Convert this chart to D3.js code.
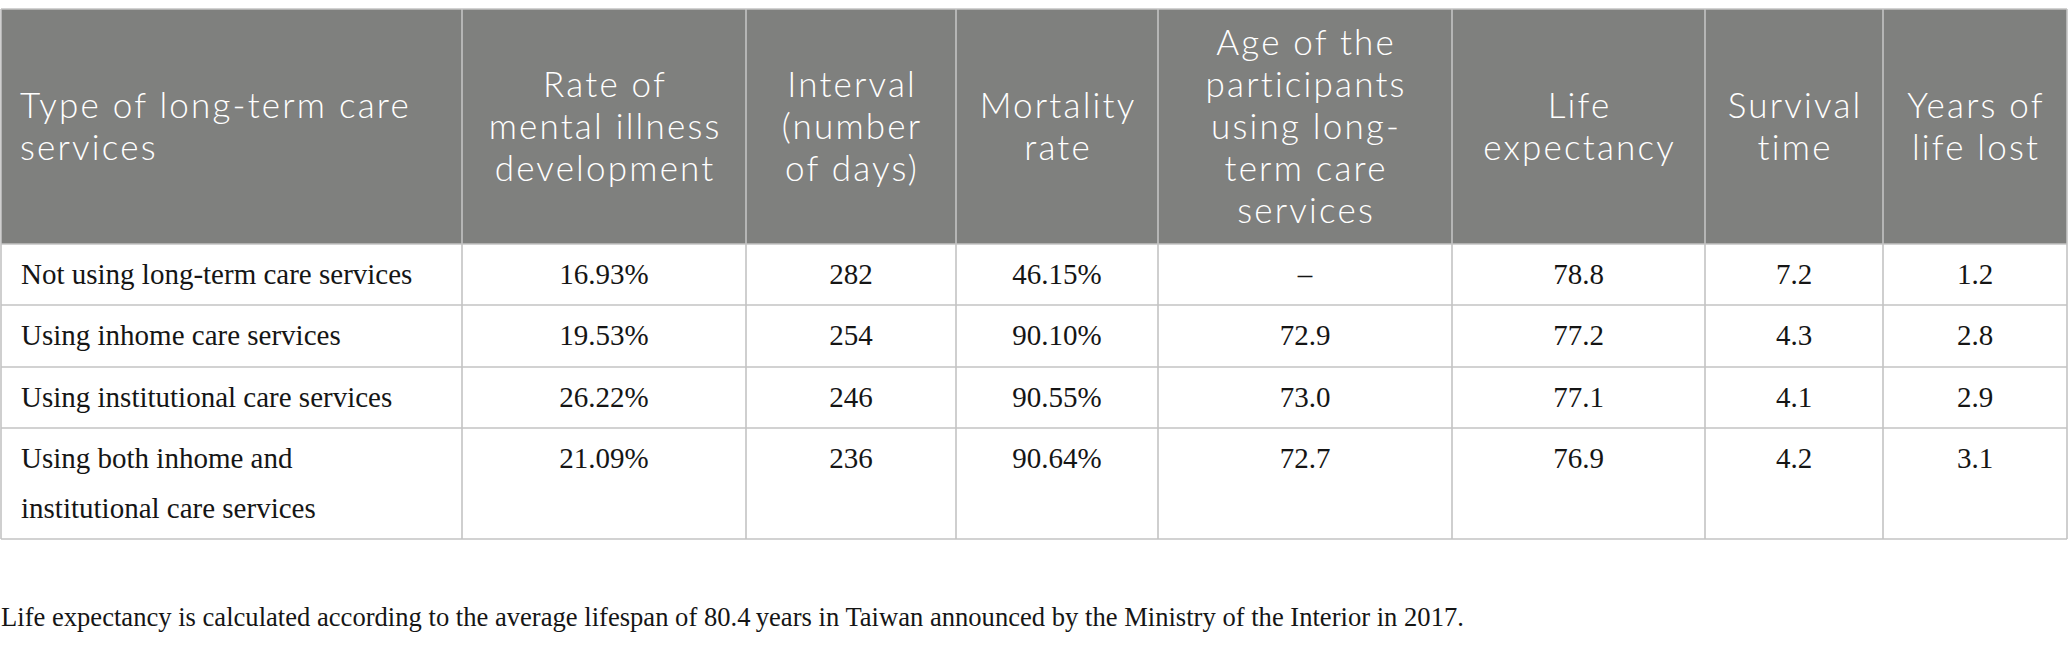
<!DOCTYPE html>
<html>
<head>
<meta charset="utf-8">
<script src="https://cdn.jsdelivr.net/npm/d3@7"></script>
<style>
  html, body { margin: 0; padding: 0; background: #ffffff; }
  svg { display: block; }
</style>
</head>
<body>
<svg id="chart" width="2068" height="646"></svg>
<script>
// ---- data ----
const headers = [
  ["Type of long-term care", "services"],
  ["Rate of", "mental illness", "development"],
  ["Interval", "(number", "of days)"],
  ["Mortality", "rate"],
  ["Age of the", "participants", "using long-", "term care", "services"],
  ["Life", "expectancy"],
  ["Survival", "time"],
  ["Years of", "life lost"]
];
const categories = [
  ["Not using long-term care services"],
  ["Using inhome care services"],
  ["Using institutional care services"],
  ["Using both inhome and", "institutional care services"]
];
const mentalIllnessRate = ["16.93%", "19.53%", "26.22%", "21.09%"];
const intervalDays = ["282", "254", "246", "236"];
const mortalityRate = ["46.15%", "90.10%", "90.55%", "90.64%"];
const ageOfParticipants = ["–", "72.9", "73.0", "72.7"];
const lifeExpectancy = ["78.8", "77.2", "77.1", "76.9"];
const survivalTime = ["7.2", "4.3", "4.1", "4.2"];
const yearsOfLifeLost = ["1.2", "2.8", "2.9", "3.1"];
const footnote = "Life expectancy is calculated according to the average lifespan of 80.4\u2009years in Taiwan announced by the Ministry of the Interior in 2017.";

// ---- layout ----
const colEdges = [1, 462, 746, 956, 1158, 1452, 1705, 1883, 2067];
const rowEdges = [9, 244, 305, 367, 428, 539];
const headerFill = "#7f807e";
const gridColor = "#c3c3c3";
const headerFont = "Lato, 'Open Sans', sans-serif";
const bodyFont = "'Liberation Serif', 'Times New Roman', serif";

const svg = d3.select("#chart");
const colIdx = d3.range(headers.length);
const rowIdx = d3.range(categories.length + 1);

const x = d3.scaleOrdinal().domain(colIdx).range(colEdges.slice(0, -1));
const xEnd = d3.scaleOrdinal().domain(colIdx).range(colEdges.slice(1));
const y = d3.scaleOrdinal().domain(rowIdx).range(rowEdges.slice(0, -1));
const yEnd = d3.scaleOrdinal().domain(rowIdx).range(rowEdges.slice(1));
const cx = i => (x(i) + xEnd(i)) / 2;

// header background
svg.append("rect")
  .attr("x", colEdges[0]).attr("y", y(0))
  .attr("width", colEdges[colEdges.length - 1] - colEdges[0])
  .attr("height", yEnd(0) - y(0))
  .attr("fill", headerFill);

// header text (one text element per line)
const headerLH = 42, headerMid = 139, headerLS = 2.2;
const headerLines = headers.flatMap((lines, i) =>
  lines.map((l, j) => ({ col: i, j, n: lines.length, text: l })));
svg.append("g").selectAll("text").data(headerLines).join("text")
  .attr("font-family", headerFont)
  .attr("font-weight", 300)
  .attr("font-size", 35)
  .attr("letter-spacing", headerLS)
  .attr("fill", "#ffffff")
  .attr("text-anchor", d => d.col === 0 ? "start" : "middle")
  .attr("x", d => d.col === 0 ? 20 : cx(d.col) + headerLS / 2)
  .attr("y", d => headerMid + (d.j - (d.n - 1) / 2) * headerLH)
  .text(d => d.text);

// body rows
const columnsData = [categories, mentalIllnessRate, intervalDays, mortalityRate,
  ageOfParticipants, lifeExpectancy, survivalTime, yearsOfLifeLost];
const bodyLH = 50;
const rows = d3.range(categories.length);
const bodyG = svg.append("g");
columnsData.forEach((col, c) => {
  bodyG.append("g").selectAll("text").data(rows).join("text")
    .attr("font-family", bodyFont)
    .attr("font-size", 29)
    .attr("fill", "#151515")
    .attr("text-anchor", c === 0 ? "start" : "middle")
    .each(function(r) {
      const v = col[r];
      const lines = Array.isArray(v) ? v : [v];
      d3.select(this).selectAll("tspan").data(lines).join("tspan")
        .attr("x", c === 0 ? 21 : cx(c))
        .attr("y", (l, j) => y(r + 1) + 40 + j * bodyLH)
        .text(l => l);
    });
});

// grid lines
const grid = svg.append("g").attr("stroke", gridColor).attr("stroke-width", 1.6);
grid.selectAll("line.h").data(rowEdges).join("line").attr("class", "h")
  .attr("x1", colEdges[0]).attr("x2", colEdges[colEdges.length - 1])
  .attr("y1", d => d).attr("y2", d => d);
grid.selectAll("line.v").data(colEdges).join("line").attr("class", "v")
  .attr("x1", d => d).attr("x2", d => d)
  .attr("y1", rowEdges[0]).attr("y2", rowEdges[rowEdges.length - 1]);

// footnote
svg.append("text")
  .attr("x", 1).attr("y", 626)
  .attr("font-family", bodyFont)
  .attr("font-size", 26.6)
  .attr("fill", "#151515")
  .text(footnote);
</script>
</body>
</html>
